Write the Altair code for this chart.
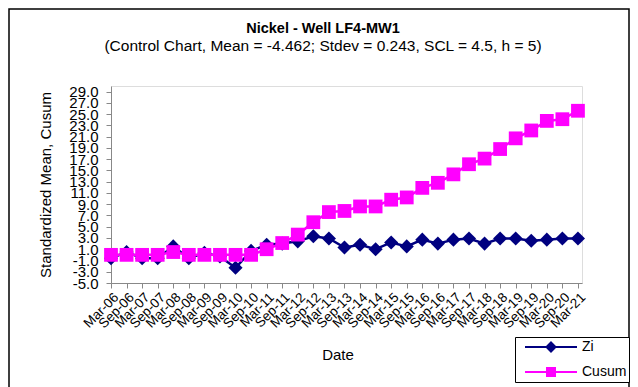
import altair as alt
import pandas as pd

dates = ["Mar-06", "Sep-06", "Mar-07", "Sep-07", "Mar-08", "Sep-08", "Mar-09", "Sep-09",
         "Mar-10", "Sep-10", "Mar-11", "Sep-11", "Mar-12", "Sep-12", "Mar-13", "Sep-13",
         "Mar-14", "Sep-14", "Mar-15", "Sep-15", "Mar-16", "Sep-16", "Mar-17", "Sep-17",
         "Mar-18", "Sep-18", "Mar-19", "Sep-19", "Mar-20", "Sep-20", "Mar-21"]
zi = [-0.6, 0.5, -0.6, -0.6, 1.5, -0.6, 0.35, -0.3, -2.3, 0.7, 1.8, 2.0, 2.4, 3.3, 2.9, 1.3,
      1.8, 1.0, 2.2, 1.5, 2.7, 2.0, 2.7, 2.9, 2.0, 2.9, 2.9, 2.5, 2.7, 2.9, 2.9]
cusum = [0.0, 0.0, 0.0, 0.0, 0.5, 0.0, 0.0, 0.0, 0.0, 0.0, 1.0, 2.1, 3.6, 5.8, 7.6, 7.8,
         8.6, 8.6, 9.8, 10.2, 11.9, 12.8, 14.3, 16.1, 17.1, 18.8, 20.7, 22.1, 23.8, 24.1, 25.6]
series_names = ["Zi", "Cusum"]
series_colors = ["#000080", "#FF00FF"]
y_tick_values = [-5, -3, -1, 1, 3, 5, 7, 9, 11, 13, 15, 17, 19, 21, 23, 25, 27, 29]

rows = []
for i, d in enumerate(dates):
    rows.append({"idx": i, "date": d, "series": "Zi", "value": zi[i]})
    rows.append({"idx": i, "date": d, "series": "Cusum", "value": cusum[i]})
df = pd.DataFrame(rows)

FONT = "Liberation Sans"
label_expr = "[" + ",".join("'%s'" % d for d in dates) + "][datum.value]"

x_enc = alt.X(
    "idx:Q",
    scale=alt.Scale(domain=[0, 30.26], nice=False, zero=False),
    axis=alt.Axis(
        values=list(range(len(dates))), labelExpr=label_expr, labelAngle=-45,
        labelAlign="right", labelBaseline="top", labelFlush=False, labelOverlap=False,
        labelBound=False, labelPadding=2, labelFontSize=13.5, tickSize=5, grid=False,
        title="Date", titleX=226.5, titleY=71, titleBaseline="middle",
        titleFontSize=15, titleFontWeight="normal",
    ),
)
y_enc = alt.Y(
    "value:Q",
    scale=alt.Scale(domain=[-5, 30], nice=False, zero=False),
    axis=alt.Axis(
        values=y_tick_values,
        labelExpr="(datum.value < 0 ? '-' : '') + format(abs(datum.value), '.1f')",
        labelOverlap=False, labelFlush=False, labelBound=False, labelPadding=8,
        labelFontSize=15, tickSize=5, grid=False,
        title="Standardized Mean, Cusum", titleX=-65.5, titleY=98.5,
        titleBaseline="middle", titleAlign="center", titleAngle=270,
        titleFontSize=15, titleFontWeight="normal",
    ),
)

frame = alt.Chart(alt.Data(values=[{}])).mark_rect(
    fill="transparent", stroke="black", strokeWidth=1.5
).encode(x=alt.value(-102), x2=alt.value(518), y=alt.value(-77), y2=alt.value(320))

def series_layers(name, color, shape, size):
    base = alt.Chart(df).transform_filter(alt.datum.series == name)
    line = base.mark_line(color=color, strokeWidth=2.5).encode(x=x_enc, y=y_enc)
    pts = base.mark_point(shape=shape, filled=True, color=color, size=size, opacity=1).encode(
        x=x_enc, y=y_enc)
    return [line, pts]

zi_layers = series_layers("Zi", series_colors[0], "diamond", 200)
cu_layers = series_layers("Cusum", series_colors[1], "square", 190)

# legend symbols: line with marker; nominal symbol size 14px (scale 7px per unit)
legend_paths = [
    "M-3.714,0L3.714,0M0,-0.643L0.643,0L0,0.643L-0.643,0Z",
    "M-3.714,0L3.714,0M-0.571,-0.571L0.571,-0.571L0.571,0.571L-0.571,0.571Z",
]
leg = alt.Legend(
    title=None, orient="none", legendX=404, legendY=251, symbolSize=196,
    symbolStrokeWidth=2, symbolOpacity=1, symbolOffset=26, labelOffset=23,
    labelFontSize=14, labelFont=FONT, labelColor="black", padding=2, rowPadding=8,
    strokeColor="black", fillColor="white", cornerRadius=0,
)
legend_layer = alt.Chart(df).mark_point(opacity=0).encode(
    x=x_enc, y=y_enc,
    fill=alt.Fill("series:N", scale=alt.Scale(domain=series_names, range=series_colors), legend=leg),
    stroke=alt.Stroke("series:N", scale=alt.Scale(domain=series_names, range=series_colors), legend=leg),
    shape=alt.Shape("series:N", scale=alt.Scale(domain=series_names, range=legend_paths), legend=leg),
)

chart = alt.layer(frame, *zi_layers, *cu_layers, legend_layer).properties(
    width=471, height=197,
    padding={"left": 103, "top": 78, "right": 48, "bottom": 104},
    autosize=alt.AutoSizeParams(type="none"),
    title=alt.TitleParams(
        text="Nickel - Well LF4-MW1",
        subtitle="(Control Chart, Mean = -4.462; Stdev = 0.243, SCL = 4.5, h = 5)",
        anchor="middle", dx=-23.5, dy=47.5, offset=0, font=FONT, subtitleFont=FONT,
        fontSize=14.5, subtitleFontSize=15.5, fontWeight="bold", color="black",
        subtitleColor="black", subtitlePadding=3,
    ),
).configure_view(stroke="#808080", strokeWidth=2).configure_axis(
    labelFont=FONT, titleFont=FONT, labelColor="black", titleColor="black",
    domainColor="black", tickColor="black", domainWidth=1.5, tickWidth=1,
).configure(background="white")

chart.save("out.html", embed_options={"renderer": "svg", "actions": False})
